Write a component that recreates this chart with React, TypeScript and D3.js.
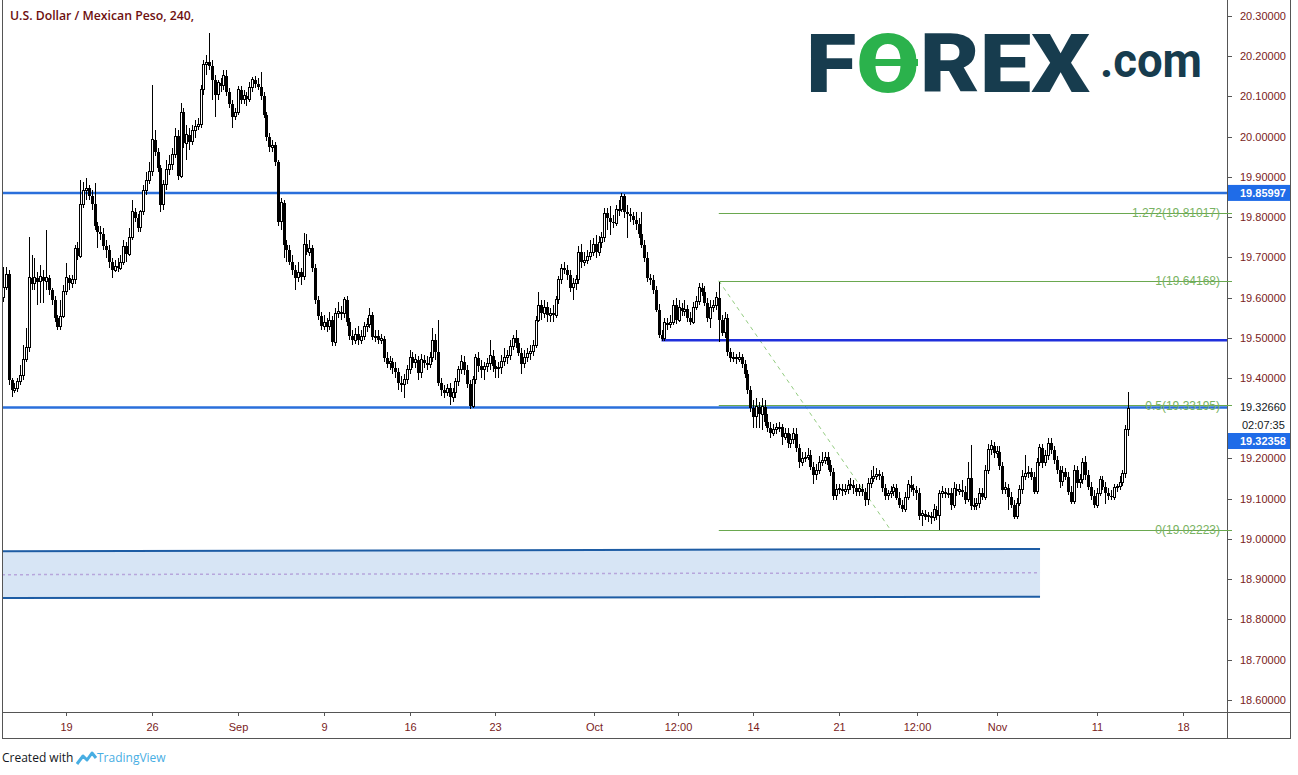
import * as d3 from "d3";

// USD/MXN 4h candles, Aug 14 – Nov 12 (one line per trading day, 6 bars/day)
const firstOpen = 19.601;

const closes: number[] = [
  19.626, 19.658, 19.395, 19.370,
  19.375, 19.390, 19.405, 19.445, 19.475, 19.649,
  19.634, 19.649, 19.639, 19.651, 19.641, 19.649,
  19.619, 19.594, 19.549, 19.527, 19.554, 19.614,
  19.649, 19.636, 19.644, 19.723, 19.703, 19.830,
  19.867, 19.872, 19.852, 19.832, 19.778, 19.763,
  19.758, 19.728, 19.718, 19.688, 19.668, 19.678,
  19.673, 19.688, 19.728, 19.708, 19.748, 19.813,
  19.798, 19.773, 19.813, 19.867, 19.892, 19.912,
  19.992, 19.962, 19.922, 19.830, 19.880, 19.917,
  19.930, 19.955, 20.001, 19.902, 20.061, 19.984,
  20.004, 19.987, 20.016, 20.024, 20.031, 20.116,
  20.180, 20.185, 20.176, 20.141, 20.104, 20.134,
  20.126, 20.151, 20.111, 20.081, 20.049, 20.061,
  20.116, 20.091, 20.101, 20.093, 20.121, 20.141,
  20.131, 20.123, 20.101, 20.054, 19.999, 19.974,
  19.979, 19.937, 19.788, 19.835, 19.731, 19.718,
  19.688, 19.668, 19.649, 19.663, 19.651, 19.733,
  19.713, 19.723, 19.673, 19.594, 19.554, 19.529,
  19.539, 19.527, 19.544, 19.489, 19.559, 19.564,
  19.559, 19.594, 19.539, 19.504, 19.494, 19.509,
  19.494, 19.504, 19.527, 19.532, 19.556, 19.502,
  19.504, 19.494, 19.497, 19.450, 19.435, 19.440,
  19.425, 19.415, 19.388, 19.383, 19.395, 19.420,
  19.452, 19.438, 19.445, 19.413, 19.445, 19.438,
  19.433, 19.450, 19.494, 19.465, 19.388, 19.370,
  19.363, 19.375, 19.352, 19.365, 19.390, 19.420,
  19.440, 19.420, 19.385, 19.330, 19.395, 19.450,
  19.430, 19.420, 19.428, 19.435, 19.455, 19.430,
  19.423, 19.425, 19.440, 19.450, 19.457, 19.477,
  19.499, 19.487, 19.462, 19.435, 19.450, 19.460,
  19.465, 19.480, 19.544, 19.581, 19.561, 19.576,
  19.556, 19.561, 19.556, 19.594, 19.644, 19.673,
  19.668, 19.656, 19.624, 19.634, 19.644, 19.713,
  19.688, 19.693, 19.701, 19.713, 19.733, 19.713,
  19.736, 19.748, 19.810, 19.798, 19.788, 19.785,
  19.818, 19.820, 19.852, 19.813, 19.808, 19.803,
  19.793, 19.783, 19.758, 19.731, 19.698, 19.649,
  19.644, 19.619, 19.569, 19.507, 19.497, 19.537,
  19.532, 19.539, 19.581, 19.544, 19.574, 19.566,
  19.571, 19.549, 19.539, 19.576, 19.589, 19.624,
  19.614, 19.586, 19.549, 19.576, 19.579, 19.599,
  19.544, 19.512, 19.549, 19.465, 19.450, 19.452,
  19.447, 19.452, 19.435, 19.410, 19.370, 19.325,
  19.303, 19.328, 19.310, 19.328, 19.291, 19.276,
  19.263, 19.273, 19.276, 19.278, 19.253, 19.263,
  19.238, 19.246, 19.261, 19.226, 19.191, 19.201,
  19.203, 19.208, 19.178, 19.159, 19.171, 19.191,
  19.196, 19.203, 19.183, 19.166, 19.107, 19.122,
  19.124, 19.119, 19.122, 19.132, 19.134, 19.127,
  19.117, 19.124, 19.117, 19.097, 19.137, 19.151,
  19.156, 19.161, 19.156, 19.127, 19.107, 19.112,
  19.117, 19.127, 19.102, 19.084, 19.074, 19.102,
  19.134, 19.127, 19.122, 19.114, 19.057, 19.062,
  19.055, 19.057, 19.052, 19.072, 19.057, 19.112,
  19.117, 19.112, 19.114, 19.084, 19.124, 19.119,
  19.122, 19.117, 19.097, 19.151, 19.082, 19.084,
  19.087, 19.114, 19.104, 19.171, 19.221, 19.231,
  19.213, 19.216, 19.181, 19.122, 19.127, 19.104,
  19.084, 19.055, 19.089, 19.122, 19.156, 19.163,
  19.166, 19.153, 19.117, 19.191, 19.226, 19.189,
  19.208, 19.238, 19.221, 19.196, 19.171, 19.142,
  19.166, 19.153, 19.117, 19.092, 19.171, 19.139,
  19.147, 19.191, 19.159, 19.129, 19.107, 19.084,
  19.114, 19.147, 19.129, 19.114, 19.107, 19.104,
  19.127, 19.129, 19.139, 19.163, 19.271, 19.323,
];

const highs: number[] = [
  19.676, 19.676, 19.668, 19.400,
  19.388, 19.400, 19.433, 19.482, 19.524, 19.751,
  19.706, 19.698, 19.663, 19.681, 19.668, 19.768,
  19.656, 19.624, 19.604, 19.556, 19.594, 19.631,
  19.686, 19.656, 19.656, 19.731, 19.738, 19.892,
  19.887, 19.897, 19.880, 19.867, 19.885, 19.788,
  19.778, 19.773, 19.743, 19.731, 19.698, 19.693,
  19.698, 19.706, 19.743, 19.738, 19.773, 19.842,
  19.823, 19.808, 19.818, 19.880, 19.912, 19.937,
  20.128, 20.016, 19.972, 19.930, 19.892, 19.942,
  19.955, 19.972, 20.021, 20.016, 20.084, 20.071,
  20.029, 20.021, 20.029, 20.041, 20.046, 20.128,
  20.190, 20.203, 20.257, 20.190, 20.153, 20.141,
  20.146, 20.166, 20.166, 20.121, 20.091, 20.071,
  20.126, 20.126, 20.116, 20.111, 20.136, 20.148,
  20.151, 20.146, 20.161, 20.111, 20.061, 20.009,
  19.992, 19.987, 19.942, 19.847, 19.842, 19.743,
  19.731, 19.706, 19.681, 19.688, 19.673, 19.761,
  19.758, 19.743, 19.731, 19.683, 19.604, 19.564,
  19.556, 19.549, 19.564, 19.554, 19.574, 19.589,
  19.579, 19.601, 19.604, 19.549, 19.519, 19.524,
  19.529, 19.519, 19.539, 19.549, 19.574, 19.564,
  19.519, 19.519, 19.509, 19.504, 19.465, 19.455,
  19.450, 19.440, 19.425, 19.405, 19.410, 19.433,
  19.470, 19.465, 19.460, 19.455, 19.460, 19.458,
  19.455, 19.465, 19.524, 19.509, 19.544, 19.400,
  19.383, 19.385, 19.388, 19.375, 19.400, 19.430,
  19.457, 19.455, 19.433, 19.395, 19.405, 19.460,
  19.465, 19.445, 19.440, 19.450, 19.494, 19.470,
  19.445, 19.440, 19.457, 19.475, 19.470, 19.494,
  19.507, 19.519, 19.499, 19.475, 19.470, 19.475,
  19.482, 19.494, 19.554, 19.614, 19.594, 19.594,
  19.589, 19.574, 19.581, 19.604, 19.653, 19.683,
  19.688, 19.681, 19.668, 19.649, 19.656, 19.728,
  19.733, 19.713, 19.718, 19.743, 19.748, 19.756,
  19.753, 19.763, 19.823, 19.823, 19.827, 19.805,
  19.830, 19.842, 19.860, 19.857, 19.830, 19.823,
  19.813, 19.813, 19.798, 19.813, 19.743, 19.713,
  19.658, 19.656, 19.629, 19.584, 19.519, 19.549,
  19.549, 19.556, 19.594, 19.599, 19.594, 19.586,
  19.594, 19.581, 19.564, 19.589, 19.604, 19.636,
  19.636, 19.629, 19.599, 19.594, 19.594, 19.614,
  19.639, 19.556, 19.564, 19.559, 19.475, 19.465,
  19.460, 19.465, 19.460, 19.445, 19.420, 19.380,
  19.345, 19.350, 19.340, 19.350, 19.345, 19.310,
  19.291, 19.286, 19.288, 19.291, 19.286, 19.276,
  19.276, 19.261, 19.276, 19.276, 19.236, 19.216,
  19.216, 19.226, 19.221, 19.191, 19.186, 19.206,
  19.216, 19.216, 19.216, 19.196, 19.176, 19.137,
  19.137, 19.137, 19.137, 19.147, 19.151, 19.147,
  19.137, 19.137, 19.137, 19.127, 19.151, 19.171,
  19.181, 19.176, 19.171, 19.166, 19.137, 19.122,
  19.132, 19.137, 19.137, 19.117, 19.097, 19.117,
  19.147, 19.156, 19.137, 19.132, 19.127, 19.072,
  19.072, 19.067, 19.067, 19.087, 19.082, 19.122,
  19.132, 19.127, 19.127, 19.127, 19.142, 19.137,
  19.137, 19.147, 19.132, 19.191, 19.233, 19.102,
  19.102, 19.127, 19.127, 19.183, 19.236, 19.246,
  19.241, 19.231, 19.231, 19.191, 19.142, 19.137,
  19.117, 19.097, 19.102, 19.134, 19.171, 19.208,
  19.181, 19.176, 19.166, 19.201, 19.236, 19.236,
  19.221, 19.251, 19.251, 19.231, 19.206, 19.181,
  19.181, 19.176, 19.166, 19.132, 19.183, 19.181,
  19.161, 19.201, 19.206, 19.171, 19.142, 19.122,
  19.127, 19.156, 19.156, 19.142, 19.127, 19.122,
  19.137, 19.137, 19.156, 19.171, 19.283, 19.365,
];

const lows: number[] = [
  19.589, 19.619, 19.383, 19.352,
  19.363, 19.365, 19.383, 19.395, 19.440, 19.465,
  19.619, 19.619, 19.581, 19.586, 19.586, 19.619,
  19.606, 19.581, 19.539, 19.519, 19.519, 19.549,
  19.606, 19.619, 19.624, 19.634, 19.693, 19.698,
  19.823, 19.842, 19.842, 19.818, 19.768, 19.723,
  19.743, 19.718, 19.698, 19.673, 19.649, 19.663,
  19.663, 19.668, 19.681, 19.688, 19.703, 19.743,
  19.788, 19.763, 19.763, 19.805, 19.855, 19.882,
  19.902, 19.952, 19.912, 19.813, 19.818, 19.867,
  19.905, 19.917, 19.947, 19.892, 19.897, 19.972,
  19.942, 19.967, 19.979, 19.997, 20.016, 20.021,
  20.104, 20.153, 20.166, 20.091, 20.049, 20.091,
  20.111, 20.116, 20.101, 20.071, 20.021, 20.041,
  20.054, 20.081, 20.081, 20.076, 20.086, 20.111,
  20.121, 20.116, 20.091, 20.046, 19.989, 19.962,
  19.962, 19.927, 19.778, 19.768, 19.698, 19.688,
  19.681, 19.656, 19.619, 19.639, 19.631, 19.644,
  19.706, 19.703, 19.663, 19.584, 19.544, 19.519,
  19.519, 19.514, 19.519, 19.479, 19.479, 19.549,
  19.544, 19.549, 19.529, 19.494, 19.482, 19.484,
  19.482, 19.484, 19.494, 19.514, 19.524, 19.494,
  19.489, 19.484, 19.484, 19.440, 19.425, 19.420,
  19.410, 19.400, 19.370, 19.365, 19.350, 19.385,
  19.410, 19.425, 19.425, 19.395, 19.400, 19.425,
  19.420, 19.425, 19.440, 19.445, 19.380, 19.355,
  19.350, 19.355, 19.333, 19.340, 19.350, 19.380,
  19.410, 19.408, 19.375, 19.323, 19.325, 19.385,
  19.415, 19.400, 19.395, 19.415, 19.420, 19.415,
  19.400, 19.400, 19.410, 19.430, 19.435, 19.445,
  19.470, 19.475, 19.455, 19.410, 19.425, 19.440,
  19.445, 19.455, 19.475, 19.539, 19.544, 19.549,
  19.539, 19.539, 19.539, 19.549, 19.584, 19.634,
  19.658, 19.644, 19.614, 19.594, 19.619, 19.634,
  19.673, 19.678, 19.683, 19.693, 19.703, 19.698,
  19.703, 19.723, 19.738, 19.768, 19.756, 19.773,
  19.778, 19.803, 19.813, 19.798, 19.748, 19.788,
  19.780, 19.768, 19.748, 19.723, 19.688, 19.639,
  19.631, 19.609, 19.564, 19.499, 19.492, 19.492,
  19.519, 19.524, 19.532, 19.534, 19.539, 19.554,
  19.554, 19.539, 19.532, 19.534, 19.569, 19.581,
  19.604, 19.579, 19.539, 19.524, 19.564, 19.569,
  19.489, 19.504, 19.499, 19.455, 19.440, 19.440,
  19.435, 19.440, 19.425, 19.400, 19.360, 19.315,
  19.276, 19.276, 19.276, 19.271, 19.281, 19.266,
  19.251, 19.256, 19.261, 19.266, 19.233, 19.246,
  19.226, 19.226, 19.236, 19.216, 19.176, 19.181,
  19.191, 19.196, 19.171, 19.137, 19.147, 19.161,
  19.181, 19.186, 19.171, 19.156, 19.097, 19.097,
  19.112, 19.107, 19.109, 19.112, 19.122, 19.112,
  19.107, 19.107, 19.107, 19.082, 19.084, 19.127,
  19.142, 19.147, 19.147, 19.117, 19.097, 19.097,
  19.102, 19.107, 19.097, 19.077, 19.067, 19.067,
  19.097, 19.117, 19.107, 19.097, 19.047, 19.032,
  19.047, 19.042, 19.037, 19.045, 19.047, 19.022,
  19.102, 19.102, 19.102, 19.072, 19.077, 19.107,
  19.109, 19.104, 19.087, 19.092, 19.072, 19.072,
  19.072, 19.077, 19.097, 19.097, 19.161, 19.208,
  19.201, 19.201, 19.171, 19.112, 19.112, 19.072,
  19.077, 19.049, 19.049, 19.082, 19.112, 19.147,
  19.151, 19.147, 19.112, 19.112, 19.181, 19.176,
  19.181, 19.196, 19.211, 19.186, 19.161, 19.127,
  19.132, 19.147, 19.109, 19.087, 19.087, 19.127,
  19.127, 19.137, 19.147, 19.122, 19.097, 19.077,
  19.077, 19.107, 19.122, 19.087, 19.097, 19.097,
  19.097, 19.117, 19.122, 19.132, 19.151, 19.256,
];

// axis
const priceTicks = [20.3, 20.2, 20.1, 20.0, 19.9, 19.8, 19.7, 19.6, 19.5, 19.4, 19.2, 19.1, 19.0, 18.9, 18.8, 18.7, 18.6];
const timeLabels = ["19", "26", "Sep", "9", "16", "23", "Oct", "12:00", "14", "21", "12:00", "Nov", "11", "18"];
const timeLabelDays = [0, 5, 10, 15, 20, 25, 30.73, 35.6, 40, 45, 49.55, 54.2, 60, 65];

// drawings
const hLevels = [19.85997, 19.3266];
const midLevel = 19.494;
const midLevelStartBar = 230;
const fibRatios = ["1.272", "1", "0.5", "0"];
const fibPrices = [19.81017, 19.64168, 19.33195, 19.02223];
const fibBars = [250, 310];
const channelBars = [-0.35, 362.2];
const channelTop = [18.969, 18.975];
const channelMid = [18.911, 18.916];
const channelBottom = [18.853, 18.856];
const lastPrice = 19.32358;

const W = 1298;
const H = 775;
const LEFT = 2;
const RIGHT = 1227;
const BOTTOM = 712;
const AXIS_RED = "#7a1c1c";
const LINE_BLUE = "#2a6fdb";
const FIB_GREEN = "#6aa84f";
const LOGO_DARK = "#173c4e";
const LOGO_GREEN = "#2bb24c";

export default function App() {
  const x = d3.scaleLinear().domain([-0.35, 427.5]).range([LEFT, RIGHT]);
  const y = d3.scaleLinear().domain([18.6, 20.3]).range([699.8, 15.9]);
  const dayBar = (d: number) => 22 + 6 * d;

  const bars = closes.map((c, i) => {
    const o = i === 0 ? firstOpen : closes[i - 1];
    return { i, o, c, h: Math.max(highs[i], o, c), l: Math.min(lows[i], o, c) };
  });

  const chan = (arr: number[]) =>
    arr.map((v, k) => `${x(channelBars[k])},${y(v)}`);
  const chanPoly = [...chan(channelTop), ...chan(channelBottom).reverse()].join(" ");

  const font = "'Liberation Sans', Arial, sans-serif";

  return (
    <svg width={W} height={H} style={{ position: "absolute", left: 0, top: 0, background: "#fff" }}>
      <defs>
        <clipPath id="plot">
          <rect x={LEFT} y={0} width={RIGHT - LEFT} height={BOTTOM} />
        </clipPath>
      </defs>
      <rect width={W} height={H} fill="#fff" />

      <g clipPath="url(#plot)">
        {/* channel */}
        <polygon points={chanPoly} fill="#d7e5f5" />
        <line x1={x(channelBars[0])} y1={y(channelTop[0])} x2={x(channelBars[1])} y2={y(channelTop[1])} stroke="#1d5ca4" strokeWidth={2} />
        <line x1={x(channelBars[0])} y1={y(channelBottom[0])} x2={x(channelBars[1])} y2={y(channelBottom[1])} stroke="#1d5ca4" strokeWidth={2} />
        <line x1={x(channelBars[0])} y1={y(channelMid[0])} x2={x(channelBars[1])} y2={y(channelMid[1])} stroke="#b7a6dc" strokeWidth={1.5} strokeDasharray="3 3" />

        {/* fib */}
        {fibPrices.map((p, k) => (
          <line key={"f" + k} x1={x(fibBars[0])} x2={RIGHT - 5} y1={Math.round(y(p)) + 0.5} y2={Math.round(y(p)) + 0.5} stroke={FIB_GREEN} strokeWidth={1} />
        ))}
        <line x1={x(fibBars[0])} y1={y(fibPrices[1])} x2={x(fibBars[1])} y2={y(fibPrices[3])} stroke="#93cc80" strokeWidth={1} strokeDasharray="4 4" />

        {/* horizontal levels */}
        {hLevels.map((p, k) => (
          <line key={"h" + k} x1={LEFT} x2={RIGHT} y1={y(p)} y2={y(p)} stroke={LINE_BLUE} strokeWidth={2.5} />
        ))}
        <line x1={x(midLevelStartBar)} x2={RIGHT} y1={y(midLevel)} y2={y(midLevel)} stroke="#1f2fdc" strokeWidth={2.5} />

        {/* candles */}
        <g shapeRendering="crispEdges">
          {bars.map((b) => {
            const px = Math.round(x(b.i));
            const up = b.c >= b.o;
            const top = y(Math.max(b.o, b.c));
            const bot = y(Math.min(b.o, b.c));
            return (
              <g key={b.i}>
                <line x1={px + 0.5} x2={px + 0.5} y1={y(b.h)} y2={y(b.l)} stroke="#000" strokeWidth={1} />
                {up ? (
                  <rect x={px - 0.5} y={top} width={2} height={Math.max(bot - top, 1)} fill="#fff" stroke="#000" strokeWidth={1} />
                ) : (
                  <rect x={px - 1} y={top} width={3} height={Math.max(bot - top, 1)} fill="#000" />
                )}
              </g>
            );
          })}
        </g>

        {/* fib labels */}
        {fibPrices.map((p, k) => (
          <text key={"fl" + k} x={1220} y={y(p) + 4.5} textAnchor="end" fontFamily={font} fontSize={12} fill="#78b262">
            {`${fibRatios[k]}(${p.toFixed(5)})`}
          </text>
        ))}
      </g>

      {/* frame */}
      <g stroke="#555" strokeWidth={1} shapeRendering="crispEdges">
        <line x1={2.5} x2={2.5} y1={0} y2={739} />
        <line x1={RIGHT + 0.5} x2={RIGHT + 0.5} y1={0} y2={739} />
        <line x1={1290.5} x2={1290.5} y1={0} y2={739} />
        <line x1={2} x2={1291} y1={BOTTOM + 0.5} y2={BOTTOM + 0.5} />
        <line x1={2} x2={1291} y1={738.5} y2={738.5} />
      </g>

      {/* time axis */}
      {timeLabels.map((t, k) => {
        const px = Math.round(x(dayBar(timeLabelDays[k]))) + 0.5;
        return (
          <g key={"t" + k}>
            <line x1={px} x2={px} y1={BOTTOM} y2={BOTTOM + 4} stroke="#555" shapeRendering="crispEdges" />
            <text x={px} y={731} textAnchor="middle" fontFamily={font} fontSize={11} fill={AXIS_RED}>{t}</text>
          </g>
        );
      })}

      {/* price axis */}
      {priceTicks.map((p) => (
        <g key={"p" + p}>
          <line x1={RIGHT} x2={RIGHT + 5} y1={Math.round(y(p)) + 0.5} y2={Math.round(y(p)) + 0.5} stroke="#555" shapeRendering="crispEdges" />
          <text x={1240} y={y(p) + 4} fontFamily={font} fontSize={11} fill={AXIS_RED}>{p.toFixed(5)}</text>
        </g>
      ))}
      {fibPrices.map((p, k) => (
        <line key={"ft" + k} x1={RIGHT - 5} x2={RIGHT + 5} y1={Math.round(y(p)) + 0.5} y2={Math.round(y(p)) + 0.5} stroke={FIB_GREEN} shapeRendering="crispEdges" />
      ))}
      <rect x={RIGHT + 1} y={y(hLevels[0]) - 8} width={62} height={16} fill="#1f6ce8" />
      <text x={1240} y={y(hLevels[0]) + 4} fontFamily={font} fontSize={11} fontWeight="bold" fill="#fff">{hLevels[0].toFixed(5)}</text>
      <text x={1240} y={y(hLevels[1]) + 4} fontFamily={font} fontSize={11} fill="#131722">{hLevels[1].toFixed(5)}</text>
      <text x={1242} y={429} fontFamily={font} fontSize={11} fill="#131722">02:07:35</text>
      <rect x={RIGHT + 1} y={433} width={62} height={16} fill="#1f6ce8" />
      <text x={1240} y={445} fontFamily={font} fontSize={11} fontWeight="bold" fill="#fff">{lastPrice.toFixed(5)}</text>

      {/* title */}
      <text x={10} y={20} fontFamily="'Open Sans', sans-serif" fontSize={12.5} fontWeight={600} fill="#6d0f0f" textLength={184} lengthAdjust="spacingAndGlyphs">
        U.S. Dollar / Mexican Peso, 240,
      </text>

      {/* logo */}
      <text x={806} y={92} fontFamily="Roboto, 'Open Sans', sans-serif" fontSize={82} fontWeight={900} fill={LOGO_DARK} textLength={284} lengthAdjust="spacingAndGlyphs">
        F<tspan fill={LOGO_GREEN}>O</tspan>REX
      </text>
      <rect x={874} y={59} width={44} height={7} fill={LOGO_GREEN} />
      <text x={1100} y={77} fontFamily="Roboto, 'Open Sans', sans-serif" fontSize={48} fontWeight={700} fill={LOGO_DARK} textLength={102} lengthAdjust="spacingAndGlyphs">
        .com
      </text>

      {/* footer */}
      <text x={2} y={762} fontFamily="'Open Sans', sans-serif" fontSize={12} fill="#131722">Created with</text>
      <path d="M77,764 L83,756 L87,760 L92,753 L96,758" fill="none" stroke="#48aee3" strokeWidth={3} strokeLinejoin="round" />
      <text x={97} y={762} fontFamily="'Open Sans', sans-serif" fontSize={12} fill="#48aee3">TradingView</text>
    </svg>
  );
}
